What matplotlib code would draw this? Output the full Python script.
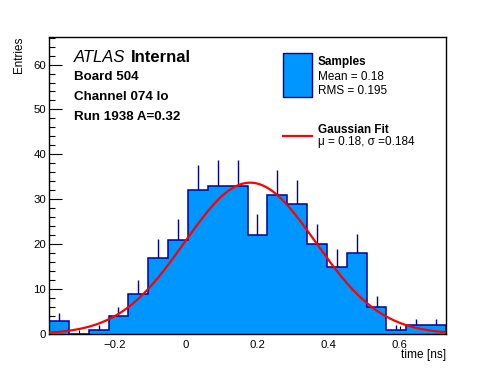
#!/usr/bin/env python3
import numpy as np
import matplotlib
matplotlib.use("Agg")
import matplotlib.pyplot as plt
from matplotlib.ticker import MultipleLocator, FuncFormatter

plt.rcParams['font.family'] = ['Liberation Sans', 'DejaVu Sans']

# histogram: 20 bins of the time distribution
x_min, x_max = -0.385, 0.73
counts = [3, 0, 1, 4, 9, 17, 21, 32, 33, 33, 22, 31, 29, 20, 15, 18, 6, 1, 2, 2]

# gaussian fit parameters
fit_const = 33.7
fit_mu = 0.18
fit_sigma = 0.184

header = ["Board 504", "Channel 074 lo", "Run 1938 A=0.32"]
stats = ["Mean = 0.18", "RMS = 0.195"]
fit_text = "\u03bc = 0.18, \u03c3 =0.184"

fill_col = "#0096ff"
line_col = "#000099"

edges = np.linspace(x_min, x_max, len(counts) + 1)
centers = 0.5 * (edges[:-1] + edges[1:])
counts = np.array(counts, dtype=float)

fig = plt.figure(figsize=(4.96, 3.72), dpi=100)
ax = fig.add_axes([49 / 496, 1 - 334 / 372, (446 - 49) / 496, (334 - 36.7) / 372])

# poisson error bars, lower half hidden by the fill like in ROOT
nz = counts > 0
ax.vlines(centers[nz], counts[nz] - np.sqrt(counts[nz]), counts[nz] + np.sqrt(counts[nz]),
          color=line_col, lw=1.0, zorder=1)
ax.stairs(counts, edges, fill=True, color=fill_col, zorder=2)
ax.stairs(counts, edges, color=line_col, lw=1.1, baseline=0, zorder=3)

xf = np.linspace(x_min, x_max, 400)
ax.plot(xf, fit_const * np.exp(-0.5 * ((xf - fit_mu) / fit_sigma) ** 2),
        color="#ff0000", lw=1.6, zorder=4)

ax.set_xlim(x_min, x_max)
ax.set_ylim(0, 66.2)

ax.xaxis.set_major_locator(MultipleLocator(0.2))
ax.xaxis.set_minor_locator(MultipleLocator(0.05))
ax.yaxis.set_major_locator(MultipleLocator(10))
ax.yaxis.set_minor_locator(MultipleLocator(2))
fmt = FuncFormatter(lambda v, p: f"{v:g}".replace("-", "\u2212"))
ax.xaxis.set_major_formatter(fmt)
ax.yaxis.set_major_formatter(fmt)

ax.tick_params(axis='x', which='major', direction='in', length=5.5, width=0.8, labelsize=8.2, pad=4)
ax.tick_params(axis='x', which='minor', direction='in', length=2.8, width=0.8)
ax.tick_params(axis='y', which='major', direction='in', length=9, width=0.8, labelsize=8.2, pad=2)
ax.tick_params(axis='y', which='minor', direction='in', length=4.5, width=0.8)
for s in ax.spines.values():
    s.set_linewidth(1.0)

fig.text(446 / 496, 1 - 349 / 372, "time [ns]", ha='right', va='top', fontsize=8.6)
fig.text(19 / 496, 1 - 37 / 372, "Entries", ha='center', va='top', rotation=90, fontsize=8.4)

# ATLAS label and run info
fig.text(74 / 496, 1 - 62 / 372, "ATLAS", style='italic', fontsize=12, va='baseline')
fig.text(131 / 496, 1 - 62 / 372, "Internal", weight='bold', fontsize=12, va='baseline')
for i, t in enumerate(header):
    fig.text(74 / 496, 1 - (80.5 + 19.5 * i) / 372, t, weight='bold', fontsize=9.6, va='baseline')

# legend drawn by hand, ROOT style
ax.add_patch(plt.Rectangle((283.3 / 496, 1 - 96.7 / 372), 28.4 / 496, 43.4 / 372,
                           transform=fig.transFigure, facecolor=fill_col,
                           edgecolor=line_col, lw=1.0, clip_on=False, zorder=5))
fig.text(317.5 / 496, 1 - 65 / 372, "Samples", weight='bold', fontsize=8.5, va='baseline')
fig.text(317.5 / 496, 1 - 80.3 / 372, stats[0], fontsize=8.5, va='baseline')
fig.text(317.5 / 496, 1 - 93.6 / 372, stats[1], fontsize=8.5, va='baseline')
fig.lines.append(plt.Line2D([282.7 / 496, 311.7 / 496], [1 - 136 / 372, 1 - 136 / 372],
                            transform=fig.transFigure, color="#ff0000", lw=1.6))
fig.text(317.5 / 496, 1 - 133 / 372, "Gaussian Fit", weight='bold', fontsize=8.5, va='baseline')
fig.text(317.5 / 496, 1 - 145.5 / 372, fit_text, fontsize=8.5, va='baseline')

fig.savefig("out.png", dpi=100)
